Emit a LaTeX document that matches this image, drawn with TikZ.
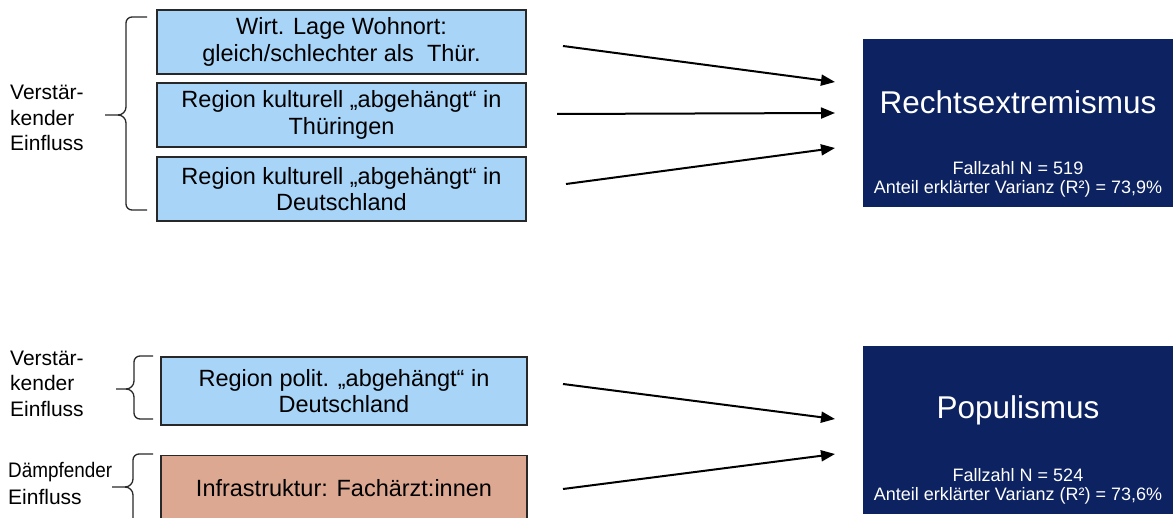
\documentclass[tikz,border=0pt]{standalone}
\usepackage{fontspec}
\setmainfont{Liberation Sans}
\usetikzlibrary{arrows.meta}
\definecolor{boxblue}{RGB}{168,212,247}
\definecolor{boxbrown}{RGB}{221,168,146}
\definecolor{navy}{RGB}{12,34,97}
\definecolor{edge}{RGB}{40,40,40}
\tikzset{
  factor/.style={draw=edge, line width=1.4pt, fill=boxblue, minimum width=369pt, inner sep=0pt, align=center, font=\fontsize{23.5}{26.5}\selectfont},
  damp/.style={factor, fill=boxbrown},
  target/.style={fill=navy, minimum width=310pt, minimum height=168pt, inner sep=0pt},
  title/.style={text=white, font=\fontsize{31.5}{36}\selectfont},
  stats/.style={text=white, align=center, font=\fontsize{18}{19.5}\selectfont},
  grouplabel/.style={anchor=west, align=left, inner sep=0pt, font=\fontsize{21}{25.5}\selectfont},
  effect/.style={line width=2pt, -{Triangle[length=14pt,width=11pt]}},
  bracket/.style={line width=1.3pt, edge, line join=round}
}
\begin{document}
\begin{tikzpicture}[x=1pt,y=-1pt]
\useasboundingbox (0,0) rectangle (1173,518);
\clip (0,0) rectangle (1173,518);
% factor boxes (top)
\node[factor, minimum height=64pt] (f1) at (341.5,42) {Wirt. Lage Wohnort:\\gleich/schlechter als\ \ Thür.};
\node[factor, minimum height=64pt] (f2) at (341.5,115) {Region kulturell „abgehängt“ in\\Thüringen};
\node[factor, minimum height=64pt] (f3) at (341.5,189) {Region kulturell „abgehängt“ in\\Deutschland};
% factor boxes (bottom)
\node[factor, minimum width=366pt, minimum height=68pt] (f4) at (344,391) {Region polit. „abgehängt“ in\\Deutschland};
\node[damp, minimum width=366pt, minimum height=80pt, anchor=north] (f5) at (344,455) {};
\node[font=\fontsize{23.5}{26.5}\selectfont] (f5t) at (344,488) {Infrastruktur: Fachärzt:innen};
% target boxes
\node[target] (t1) at (1018,123) {};
\node[title] (t1a) at (1018,102) {Rechtsextremismus};
\node[stats] (t1b) at (1018,179.5) {Fallzahl N = 519\\Anteil erklärter Varianz (R²) = 73,9\%};
\node[target] (t2) at (1018,430) {};
\node[title] (t2a) at (1018,410) {Populismus};
\node[stats] (t2b) at (1018,486.5) {Fallzahl N = 524\\Anteil erklärter Varianz (R²) = 73,6\%};
% group labels
\node[grouplabel] (g1) at (10,118) {Verstär-\\kender\\Einfluss};
\node[grouplabel] (g2) at (10,383.5) {Verstär-\\kender\\Einfluss};
\node[grouplabel, font=\fontsize{21}{27}\selectfont] (g3) at (8,483.5) {\scalebox{0.9}[1]{Dämpfender}\\Einfluss};
% braces
\draw[bracket] (147,17) -- (132,17) to[out=180,in=90] (126,23) -- (126,107) to[out=-90,in=0] (118,115) -- (105,115);
\draw[bracket] (118,115) to[out=0,in=90] (126,123) -- (126,204) to[out=-90,in=180] (132,210) -- (147,210);
\draw[bracket] (153,356) -- (140,356) to[out=180,in=90] (134,362) -- (134,381) to[out=-90,in=0] (126,389) -- (116,389);
\draw[bracket] (126,389) to[out=0,in=90] (134,397) -- (134,413) to[out=-90,in=180] (140,419) -- (153,419);
\draw[bracket] (153,454) -- (139,454) to[out=180,in=90] (133,460) -- (133,479) to[out=-90,in=0] (125,487) -- (112,487);
\draw[bracket] (125,487) to[out=0,in=90] (133,495) -- (133,530);
% arrows
\coordinate (s1) at (563,46);  \coordinate (e1) at (835,82);
\coordinate (s2) at (557,114); \coordinate (e2) at (835,113);
\coordinate (s3) at (566,184); \coordinate (e3) at (835,148);
\coordinate (s4) at (563,384); \coordinate (e4) at (835,419);
\coordinate (s5) at (563,489); \coordinate (e5) at (835,454);
\draw[effect] (s1) -- (e1);
\draw[effect] (s2) -- (e2);
\draw[effect] (s3) -- (e3);
\draw[effect] (s4) -- (e4);
\draw[effect] (s5) -- (e5);
\end{tikzpicture}
\end{document}
